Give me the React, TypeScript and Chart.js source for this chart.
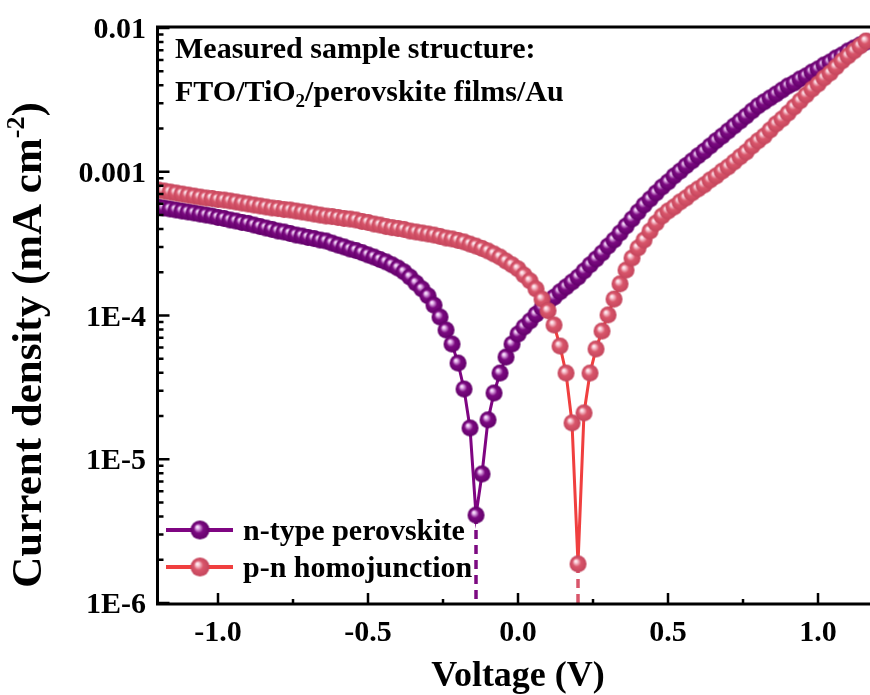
import React, { useEffect, useRef } from "react";
import { Chart, registerables } from "chart.js";
Chart.register(...registerables);

// ---------- data ----------
const voltage = [
  -1.2, -1.18, -1.16, -1.14, -1.12, -1.1, -1.08, -1.06, -1.04, -1.02,
  -1.0, -0.98, -0.96, -0.94, -0.92, -0.9, -0.88, -0.86, -0.84, -0.82,
  -0.8, -0.78, -0.76, -0.74, -0.72, -0.7, -0.68, -0.66, -0.64, -0.62,
  -0.6, -0.58, -0.56, -0.54, -0.52, -0.5, -0.48, -0.46, -0.44, -0.42,
  -0.4, -0.38, -0.36, -0.34, -0.32, -0.3, -0.28, -0.26, -0.24, -0.22,
  -0.2, -0.18, -0.16, -0.14, -0.12, -0.1, -0.08, -0.06, -0.04, -0.02,
  0.0, 0.02, 0.04, 0.06, 0.08, 0.1, 0.12, 0.14, 0.16, 0.18,
  0.2, 0.22, 0.24, 0.26, 0.28, 0.3, 0.32, 0.34, 0.36, 0.38,
  0.4, 0.42, 0.44, 0.46, 0.48, 0.5, 0.52, 0.54, 0.56, 0.58,
  0.6, 0.62, 0.64, 0.66, 0.68, 0.7, 0.72, 0.74, 0.76, 0.78,
  0.8, 0.82, 0.84, 0.86, 0.88, 0.9, 0.92, 0.94, 0.96, 0.98,
  1.0, 1.02, 1.04, 1.06, 1.08, 1.1, 1.12, 1.14, 1.16,
];

const nTypeCurrent = [
  5.69e-4, 5.6e-4, 5.51e-4, 5.42e-4, 5.33e-4, 5.25e-4, 5.17e-4, 5.08e-4, 5.0e-4, 4.92e-4,
  4.81e-4, 4.73e-4, 4.62e-4, 4.54e-4, 4.44e-4, 4.37e-4, 4.26e-4, 4.16e-4, 4.06e-4, 3.97e-4,
  3.87e-4, 3.81e-4, 3.72e-4, 3.63e-4, 3.57e-4, 3.49e-4, 3.43e-4, 3.35e-4, 3.3e-4, 3.19e-4,
  3.09e-4, 3.0e-4, 2.9e-4, 2.83e-4, 2.74e-4, 2.64e-4, 2.55e-4, 2.45e-4, 2.36e-4, 2.25e-4,
  2.14e-4, 2.01e-4, 1.85e-4, 1.68e-4, 1.53e-4, 1.37e-4, 1.18e-4, 9.76e-5, 7.93e-5, 6.33e-5,
  4.67e-5, 3.08e-5, 1.65e-5, 4.09e-6, 7.9e-6, 1.88e-5, 2.89e-5, 3.98e-5, 5.14e-5, 6.33e-5,
  7.43e-5, 8.32e-5, 9.16e-5, 1.02e-4, 1.13e-4, 1.24e-4, 1.34e-4, 1.46e-4, 1.58e-4, 1.71e-4,
  1.85e-4, 2.04e-4, 2.25e-4, 2.47e-4, 2.72e-4, 3.04e-4, 3.35e-4, 3.75e-4, 4.19e-4, 4.69e-4,
  5.25e-4, 5.87e-4, 6.46e-4, 7.12e-4, 7.83e-4, 8.49e-4, 9.34e-4, 1.01e-3, 1.1e-3, 1.19e-3,
  1.29e-3, 1.39e-3, 1.51e-3, 1.64e-3, 1.77e-3, 1.92e-3, 2.08e-3, 2.25e-3, 2.44e-3, 2.65e-3,
  2.87e-3, 3.06e-3, 3.26e-3, 3.47e-3, 3.7e-3, 3.95e-3, 4.14e-3, 4.42e-3, 4.64e-3, 4.94e-3,
  5.19e-3, 5.53e-3, 5.8e-3, 6.19e-3, 6.49e-3, 6.92e-3, 7.26e-3, 7.62e-3, 7.99e-3,
];

const pnCurrent = [
  7.47e-4, 7.35e-4, 7.23e-4, 7.12e-4, 7.0e-4, 6.89e-4, 6.78e-4, 6.67e-4, 6.57e-4, 6.52e-4,
  6.41e-4, 6.36e-4, 6.26e-4, 6.16e-4, 6.06e-4, 5.97e-4, 5.87e-4, 5.78e-4, 5.69e-4, 5.6e-4,
  5.55e-4, 5.46e-4, 5.42e-4, 5.33e-4, 5.25e-4, 5.17e-4, 5.08e-4, 5.0e-4, 4.92e-4, 4.88e-4,
  4.81e-4, 4.73e-4, 4.69e-4, 4.62e-4, 4.51e-4, 4.44e-4, 4.33e-4, 4.26e-4, 4.16e-4, 4.09e-4,
  4.03e-4, 3.97e-4, 3.87e-4, 3.81e-4, 3.75e-4, 3.69e-4, 3.63e-4, 3.55e-4, 3.46e-4, 3.41e-4,
  3.33e-4, 3.25e-4, 3.14e-4, 3.04e-4, 2.93e-4, 2.81e-4, 2.68e-4, 2.55e-4, 2.39e-4, 2.25e-4,
  2.11e-4, 1.91e-4, 1.74e-4, 1.53e-4, 1.3e-4, 1.08e-4, 8.59e-5, 6.13e-5, 3.98e-5, 1.79e-5,
  1.87e-6, 2.1e-5, 3.98e-5, 5.85e-5, 7.8e-5, 1.01e-4, 1.3e-4, 1.66e-4, 2.07e-4, 2.51e-4,
  2.95e-4, 3.35e-4, 3.87e-4, 4.4e-4, 4.92e-4, 5.33e-4, 5.69e-4, 6.16e-4, 6.57e-4, 7.12e-4,
  7.59e-4, 8.09e-4, 8.76e-4, 9.34e-4, 1.01e-3, 1.08e-3, 1.17e-3, 1.27e-3, 1.37e-3, 1.51e-3,
  1.64e-3, 1.77e-3, 1.95e-3, 2.15e-3, 2.33e-3, 2.56e-3, 2.82e-3, 3.11e-3, 3.42e-3, 3.76e-3,
  4.08e-3, 4.49e-3, 4.86e-3, 5.36e-3, 5.9e-3, 6.39e-3, 6.92e-3, 7.5e-3, 8.12e-3,
];

// zero-crossing voltages (dashed drop lines) and the minimum currents there
const dropVoltages = [-0.14, 0.2];
const dropCurrents = [4.09e-6, 1.87e-6];

const seriesNames = ["n-type perovskite", "p-n homojunction"];

const xTickValues = [-1.0, -0.5, 0.0, 0.5, 1.0];
const xTickLabels = ["-1.0", "-0.5", "0.0", "0.5", "1.0"];
const xMinorValues = [-0.75, -0.25, 0.25, 0.75];
const yTickValues = [1e-6, 1e-5, 1e-4, 1e-3, 1e-2];
const yTickLabels = ["1E-6", "1E-5", "1E-4", "0.001", "0.01"];
const xMin = -1.2;
const xMax = 1.1733;

// ---------- styling ----------
const PURPLE = "#7C0A81";
const PURPLE_LINE = "#7F0582";
const RED = "#D9566B";
const RED_LINE = "#F03F3F";
const FONT = "'Liberation Serif', 'Times New Roman', serif";

function makeBall(base: string, dark: string, light: string, r: number) {
  const c = document.createElement("canvas");
  const s = Math.ceil(2 * r + 2);
  c.width = s;
  c.height = s;
  const g = c.getContext("2d")!;
  const cx = s / 2;
  const cy = s / 2;
  const grad = g.createRadialGradient(cx - 0.3 * r, cy - 0.35 * r, 0, cx, cy, r);
  grad.addColorStop(0, "#ffffff");
  grad.addColorStop(0.18, light);
  grad.addColorStop(0.5, base);
  grad.addColorStop(1, dark);
  g.fillStyle = grad;
  g.beginPath();
  g.arc(cx, cy, r, 0, Math.PI * 2);
  g.fill();
  return c;
}

type Seg = { t: string; size: number; dy?: number };
function drawSegs(ctx: CanvasRenderingContext2D, segs: Seg[], x: number, y: number, align: "left" | "center") {
  let total = 0;
  const widths = segs.map((s) => {
    ctx.font = `bold ${s.size}px ${FONT}`;
    const w = ctx.measureText(s.t).width;
    total += w;
    return w;
  });
  let cx = align === "center" ? x - total / 2 : x;
  ctx.textAlign = "left";
  ctx.textBaseline = "alphabetic";
  segs.forEach((s, i) => {
    ctx.font = `bold ${s.size}px ${FONT}`;
    ctx.fillText(s.t, cx, y + (s.dy || 0));
    cx += widths[i];
  });
}

export default function App() {
  const ref = useRef<HTMLCanvasElement>(null);

  useEffect(() => {
    const canvas = ref.current!;
    const purpleBall = makeBall(PURPLE, "#62006A", "#E7B8EE", 8.5);
    const redBall = makeBall(RED, "#C4455C", "#FAD0DA", 8.5);
    const purpleBallL = makeBall(PURPLE, "#62006A", "#E7B8EE", 9.5);
    const redBallL = makeBall(RED, "#C4455C", "#FAD0DA", 9.5);

    const frame = {
      id: "frame",
      afterDatasetsDraw(chart: any) {
        const { ctx, chartArea: a, scales } = chart;
        const xs = scales.x;
        const ys = scales.y;
        ctx.save();
        ctx.strokeStyle = "#000";
        ctx.fillStyle = "#000";
        ctx.lineWidth = 3;
        ctx.lineCap = "butt";
        const L = a.left - 0.5;
        const B = a.bottom + 1;
        const T = a.top - 1;
        ctx.beginPath();
        ctx.moveTo(L - 1.5, T);
        ctx.lineTo(a.right, T);
        ctx.moveTo(L, T);
        ctx.lineTo(L, B + 1.5);
        ctx.moveTo(L - 1.5, B);
        ctx.lineTo(a.right, B);
        ctx.stroke();

        // ticks (inward)
        ctx.lineWidth = 2.5;
        ctx.beginPath();
        for (let d = -6; d < -2; d++) {
          for (let m = 2; m <= 9; m++) {
            const py = ys.getPixelForValue(m * Math.pow(10, d));
            ctx.moveTo(L, py);
            ctx.lineTo(L + 6, py);
          }
        }
        yTickValues.forEach((v) => {
          const py = ys.getPixelForValue(v);
          ctx.moveTo(L, py);
          ctx.lineTo(L + 12, py);
        });
        xTickValues.forEach((v) => {
          const px = xs.getPixelForValue(v);
          ctx.moveTo(px, B);
          ctx.lineTo(px, B - 11);
        });
        xMinorValues.forEach((v) => {
          const px = xs.getPixelForValue(v);
          ctx.moveTo(px, B);
          ctx.lineTo(px, B - 5);
        });
        ctx.stroke();

        // tick labels
        ctx.font = `bold 30px ${FONT}`;
        ctx.textAlign = "right";
        ctx.textBaseline = "alphabetic";
        yTickValues.forEach((v, i) => {
          const py = ys.getPixelForValue(v);
          ctx.fillText(yTickLabels[i], 146, py + 10);
        });
        ctx.textAlign = "center";
        xTickValues.forEach((v, i) => {
          const px = xs.getPixelForValue(v);
          ctx.fillText(xTickLabels[i], px, 641);
        });

        // axis titles
        drawSegs(ctx, [{ t: "Voltage (V)", size: 36 }], 518, 686, "center");
        ctx.save();
        ctx.translate(41, 345);
        ctx.rotate(-Math.PI / 2);
        drawSegs(
          ctx,
          [
            { t: "Current density (mA cm", size: 43 },
            { t: "-2", size: 26, dy: -17 },
            { t: ")", size: 43 },
          ],
          0,
          0,
          "center"
        );
        ctx.restore();

        // annotation
        drawSegs(ctx, [{ t: "Measured sample structure:", size: 30 }], 175, 58, "left");
        drawSegs(
          ctx,
          [
            { t: "FTO/TiO", size: 30 },
            { t: "2", size: 19, dy: 6 },
            { t: "/perovskite films/Au", size: 30 },
          ],
          175,
          101,
          "left"
        );

        // legend
        const legend = [
          { y: 530, line: PURPLE_LINE, ball: purpleBallL, name: seriesNames[0] },
          { y: 567, line: RED_LINE, ball: redBallL, name: seriesNames[1] },
        ];
        legend.forEach((e) => {
          ctx.strokeStyle = e.line;
          ctx.lineWidth = 4;
          ctx.beginPath();
          ctx.moveTo(166, e.y);
          ctx.lineTo(233, e.y);
          ctx.stroke();
          ctx.drawImage(e.ball, 200 - e.ball.width / 2, e.y - e.ball.height / 2);
          ctx.fillStyle = "#000";
          ctx.font = `bold 30px ${FONT}`;
          ctx.textAlign = "left";
          ctx.fillText(e.name, 243, e.y + 10);
        });
        ctx.restore();
      },
    };

    const nData = voltage.map((v, i) => ({ x: v, y: nTypeCurrent[i] }));
    const pnData = voltage.map((v, i) => ({ x: v, y: pnCurrent[i] }));

    const chart = new Chart(canvas, {
      type: "line",
      data: {
        datasets: [
          {
            label: seriesNames[1],
            data: pnData,
            borderColor: RED_LINE,
            borderWidth: 3,
            pointStyle: redBall as any,
            pointRadius: 8,
            clip: 0 as any,
            order: 0,
          },
          {
            label: seriesNames[0],
            data: nData,
            borderColor: PURPLE_LINE,
            borderWidth: 3,
            pointStyle: purpleBall as any,
            pointRadius: 8,
            clip: 0 as any,
            order: 1,
          },
          {
            label: "n drop",
            data: [
              { x: dropVoltages[0], y: dropCurrents[0] },
              { x: dropVoltages[0], y: yTickValues[0] },
            ],
            borderColor: PURPLE,
            borderWidth: 3.5,
            borderDash: [9, 6],
            pointRadius: 0,
            clip: 0 as any,
            order: 2,
          },
          {
            label: "pn drop",
            data: [
              { x: dropVoltages[1], y: dropCurrents[1] },
              { x: dropVoltages[1], y: yTickValues[0] },
            ],
            borderColor: RED,
            borderWidth: 3.5,
            borderDash: [9, 6],
            pointRadius: 0,
            clip: 0 as any,
            order: 2,
          },
        ],
      },
      options: {
        animation: false,
        responsive: false,
        devicePixelRatio: 1,
        layout: { autoPadding: false, padding: { left: 158, top: 28, right: 0, bottom: 92 } },
        plugins: { legend: { display: false }, tooltip: { enabled: false } },
        events: [],
        scales: {
          x: { type: "linear", min: xMin, max: xMax, display: false },
          y: { type: "logarithmic", min: 1e-6, max: 1e-2, display: false },
        },
      },
      plugins: [frame],
    });
    return () => chart.destroy();
  }, []);

  return (
    <div style={{ position: "fixed", left: 0, top: 0, width: 870, height: 695, background: "#fff" }}>
      <canvas ref={ref} width={870} height={695} style={{ width: 870, height: 695, display: "block" }} />
    </div>
  );
}
